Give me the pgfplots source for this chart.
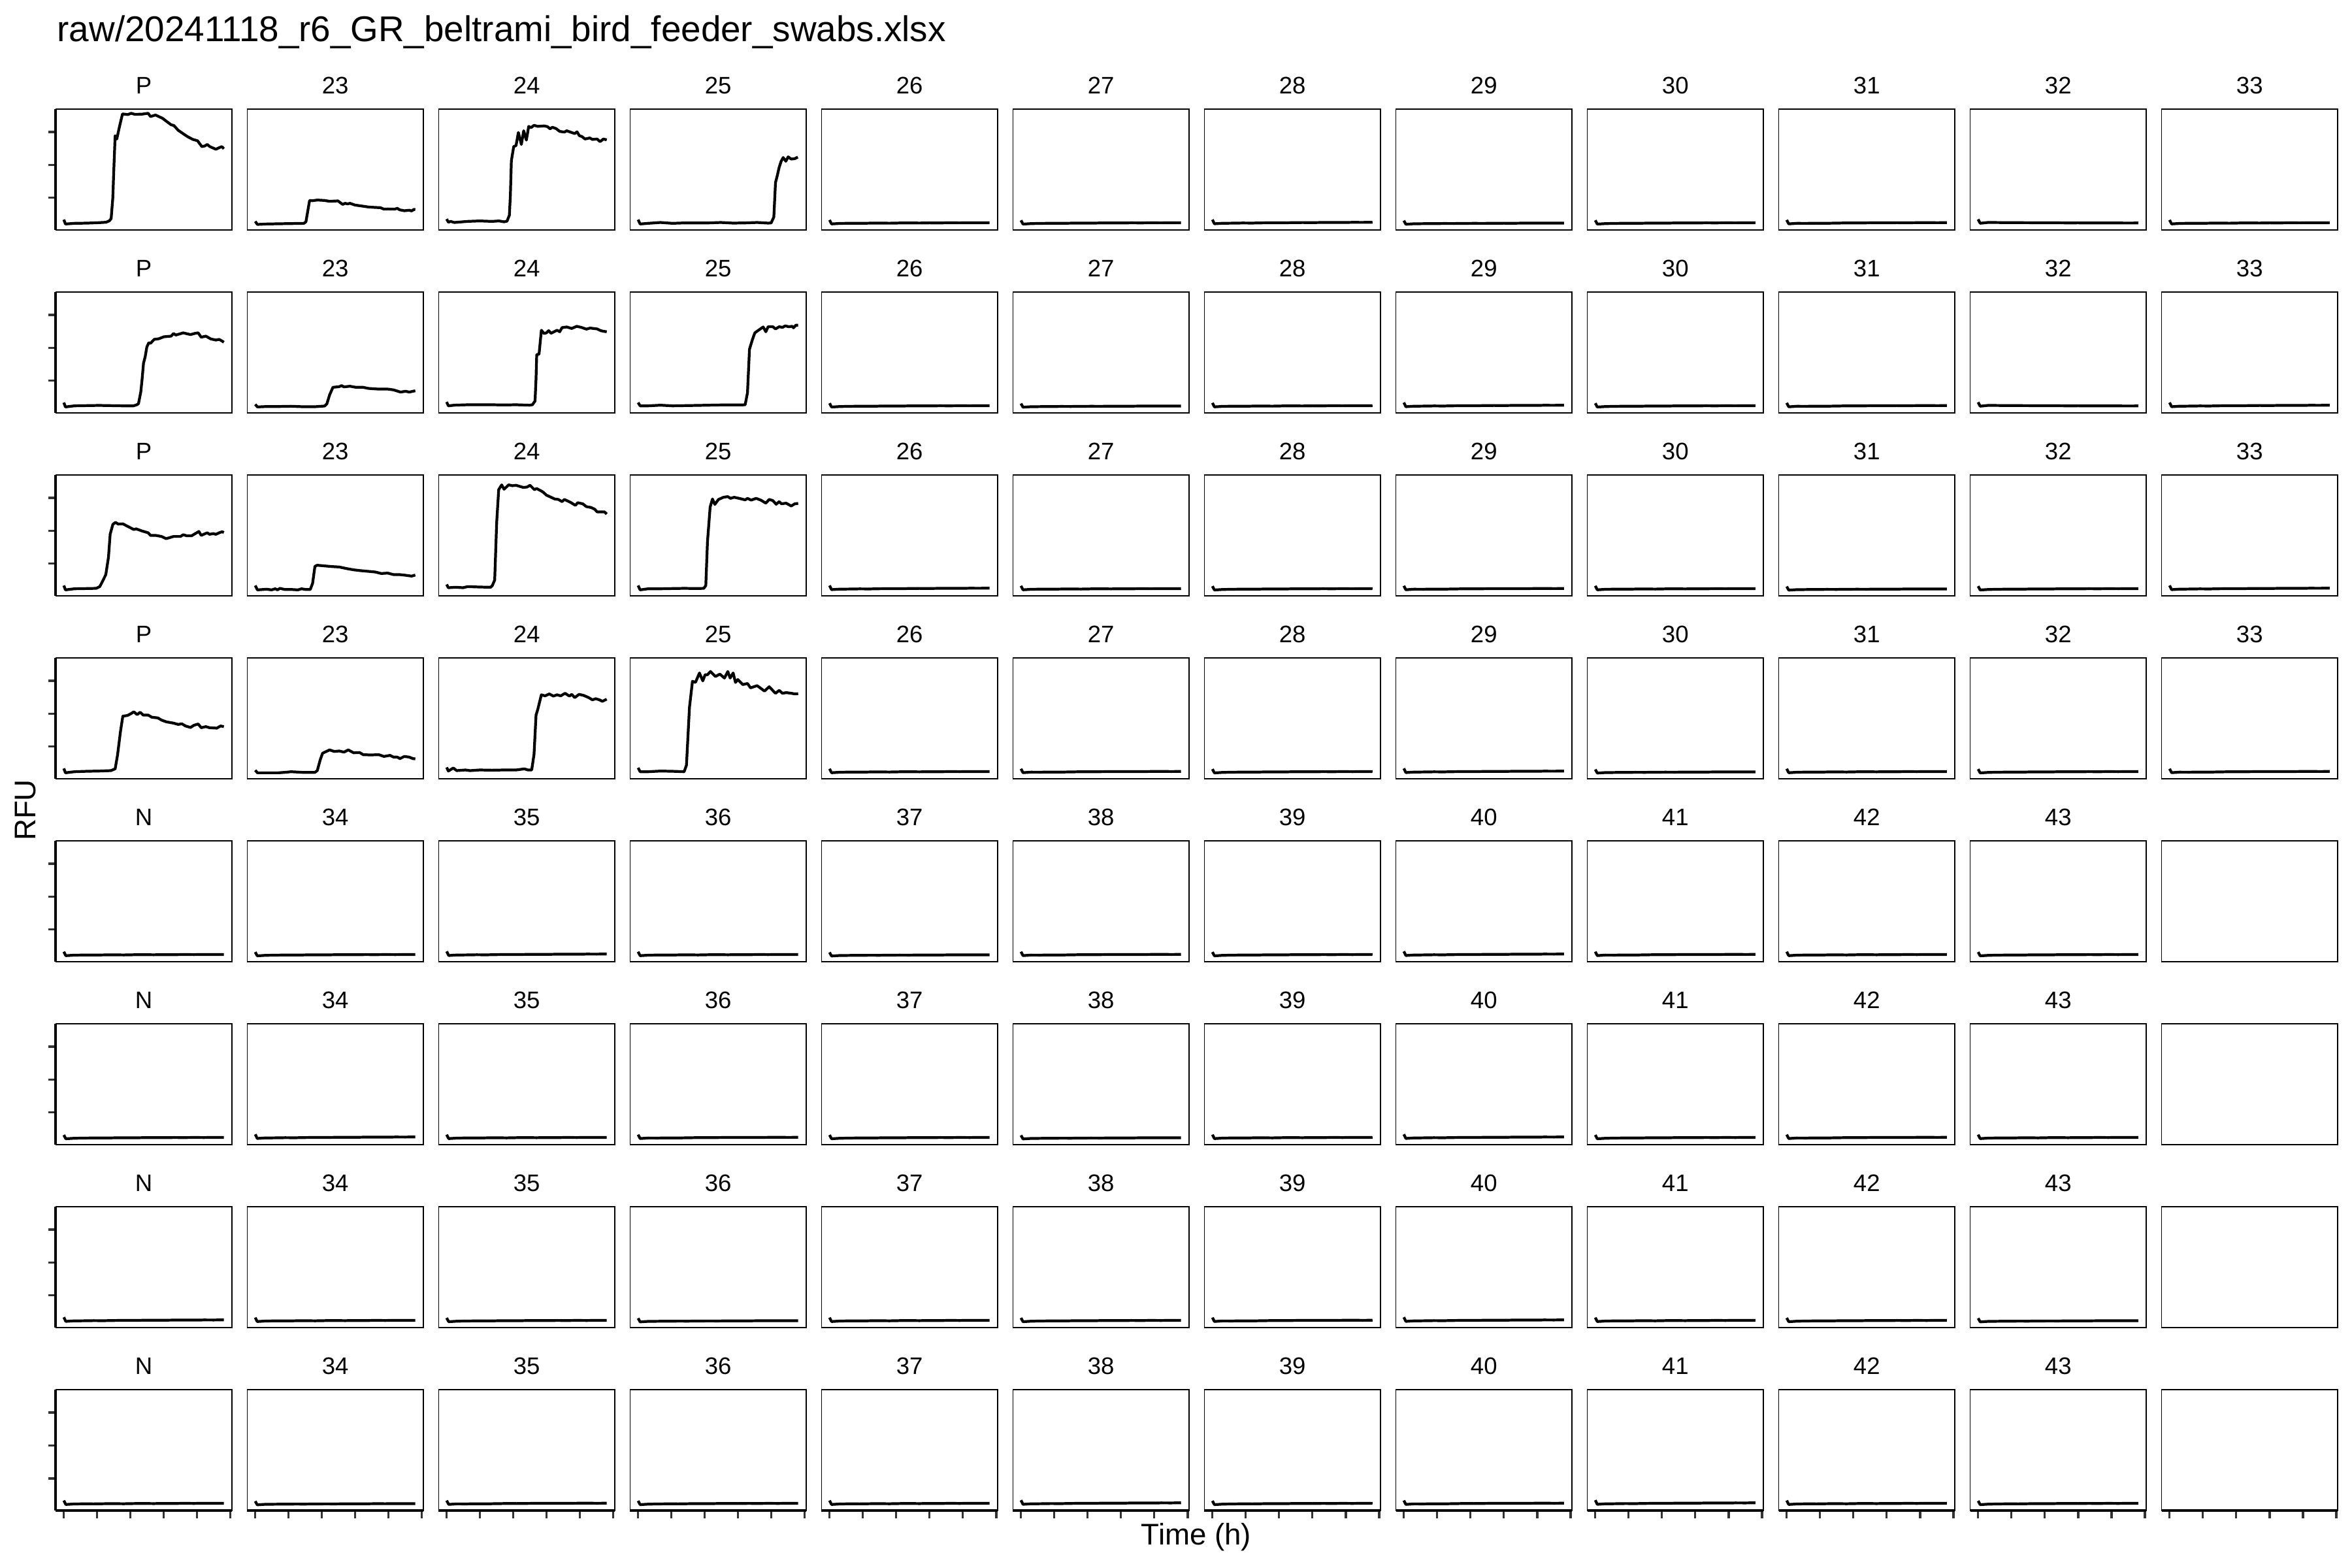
\documentclass[border=0pt]{standalone}
\usepackage{fontspec}
\setmainfont{Liberation Sans}
\usepackage{pgfplots}
\usepackage{pgfplotstable}
\pgfplotsset{compat=1.18}
\usepgfplotslibrary{groupplots}
\usetikzlibrary{calc}

% ---------- signal curves (time h, RFU) ----------
\pgfplotstableread{
x y
0 3400
0.5 2080
3.2 2280
6.9 2340
10.5 2480
12.7 2610
13.7 3070
14.2 3730
14.7 10020
15.0 18610
15.4 28860
15.9 27870
16.6 31180
17.6 35480
19.2 35280
20.2 35670
21.3 35350
23.5 35410
25.3 35670
26.0 34680
27.5 35140
29.6 34160
30.7 33300
32.2 32170
33.0 31970
34.3 30520
36.2 29200
37.2 28530
38.7 27740
40.1 27340
41.4 25560
42.3 25760
43.0 26220
43.8 25560
45.6 24760
46.6 25230
47.4 25560
48.0 24900
}\sAa
\pgfplotstableread{
x y
0 2870
0.65 1950
3.4 2080
7.0 2150
10.7 2210
14.6 2280
15.2 2740
16.3 9220
17.2 9150
18.6 9350
20.8 9220
22.3 8960
24.8 9090
26.2 8030
27.0 8360
27.7 8160
28.4 8360
29.9 7830
31.7 7570
33.9 7240
36.0 7100
37.5 7040
38.6 6580
39.7 6640
41.8 6580
42.6 6840
43.3 6380
44.7 6110
46.2 6250
46.9 6050
47.6 6510
48.0 6450
}\sAb
\pgfplotstableread{
x y
0 3600
0.5 2610
1.2 2870
2.3 2540
6.3 2870
9.9 3010
13.6 2870
15.7 3010
17.2 2740
18.1 2940
18.8 4720
19.1 10670
19.4 21250
20.1 25550
20.8 25880
21.5 29840
22.4 26210
23.1 30370
23.9 27530
24.6 31700
25.3 31300
26.2 32020
27.3 31700
29.2 31830
30.2 31630
31.0 30970
31.7 31430
32.8 31030
33.9 30170
35.3 29970
36.0 30370
37.1 29970
38.4 29510
39.1 30040
39.8 28850
40.5 28650
41.5 27860
42.9 28190
43.7 27730
45.1 27860
46.0 27070
47.0 27860
48.0 27600
}\sAc
\pgfplotstableread{
x y
0 3400
0.6 2080
3.0 2280
6.7 2540
10.3 2280
13.9 2410
17.6 2410
21.2 2410
24.8 2540
28.5 2350
32.1 2410
35.7 2540
39.0 2350
39.9 2410
40.7 4190
41.2 14640
41.7 16620
42.3 19270
42.9 21120
43.5 22240
44.3 21120
45.0 22440
45.9 21780
47.0 21910
47.9 22380
}\sAd
\pgfplotstableread{
x y
0 3400
0.5 2080
3.2 2410
10.5 2540
17.7 2410
20.9 2410
21.9 2740
22.4 3070
23.1 6710
23.5 10670
23.9 15300
24.4 17280
24.9 20260
25.5 21580
26.0 21380
27.1 22570
28.5 22770
30.0 23360
32.2 23560
32.9 24360
33.6 23890
35.8 24550
38.0 24030
39.4 24420
40.3 24550
41.2 23230
42.6 23560
44.1 22700
45.6 22370
46.6 22570
47.5 22040
48.0 21710
}\sBa
\pgfplotstableread{
x y
0 2870
0.65 2080
3.4 2210
7.0 2210
10.7 2280
14.3 2150
17.9 2150
20.8 2350
21.5 3070
22.3 5720
23.3 8030
25.2 8230
25.9 8560
26.6 8160
28.4 8360
30.2 8030
32.4 8030
33.9 7700
36.8 7500
39.7 7500
41.5 7240
43.6 6580
45.1 6840
46.2 6580
47.3 6840
48.0 6970
}\sBb
\pgfplotstableread{
x y
0 3600
0.5 2410
2.3 2610
6.3 2740
9.9 2740
13.6 2740
17.2 2680
20.8 2740
24.8 2610
25.7 2740
26.5 3870
26.8 10670
27.0 17950
27.7 18080
28.4 25350
29.2 24360
29.9 24560
30.6 25220
31.3 24420
33.1 25350
33.9 24890
34.6 26140
36.0 26340
37.5 25880
39.0 26540
40.4 26210
41.9 25680
43.0 26010
45.1 25750
46.2 25220
47.1 25020
48.0 24890
}\sBc
\pgfplotstableread{
x y
0 3400
0.6 2410
3.0 2410
6.7 2610
10.3 2410
17.6 2540
24.8 2680
30.6 2680
32.1 2740
32.8 6380
33.4 19600
34.3 22570
35.0 24550
36.1 25350
37.5 26340
38.3 24890
39.0 26410
40.4 26410
41.2 25750
42.3 26410
43.3 26210
44.1 26670
45.2 26410
46.2 26540
46.6 26080
47.3 26870
48.0 26870
}\sBd
\pgfplotstableread{
x y
0 3400
0.5 2080
3.2 2410
6.9 2480
9.7 2540
10.8 3070
11.8 5060
12.6 6710
13.4 11990
13.9 18940
14.7 21910
15.5 22570
16.3 22040
17.7 22110
19.1 21380
21.0 20390
21.7 20590
23.5 19930
25.3 19400
26.0 18610
27.5 18610
29.3 18280
30.7 17620
32.9 18280
35.0 18280
35.8 18800
36.9 18480
38.3 18480
39.4 19140
40.5 19800
41.2 18610
43.0 19400
43.7 18940
44.8 19140
45.6 18940
46.6 19400
47.5 19730
48.0 19470
}\sCa
\pgfplotstableread{
x y
0 3400
0.65 2080
3.4 2280
4.9 2080
6.0 2410
6.7 2080
7.4 2540
8.8 2210
10.7 2210
12.8 2080
13.9 2410
15.0 2210
16.5 2210
17.2 4060
17.9 9220
18.6 9550
20.8 9350
23.0 9150
25.2 9020
27.3 8560
29.5 8160
31.7 7900
33.9 7700
36.0 7500
37.8 7040
39.7 7170
41.5 6710
43.3 6710
45.1 6510
46.9 6250
48.0 6580
}\sCb
\pgfplotstableread{
x y
0 3730
0.5 2740
2.7 2870
4.9 2740
6.3 3070
9.9 2940
13.2 2870
13.7 3400
14.4 5060
15.0 22570
15.6 32490
16.5 33940
17.2 32620
18.6 33940
19.7 33680
20.8 33810
23.0 33150
24.1 33280
25.0 33810
26.3 32490
27.0 32820
28.8 31830
29.9 30830
32.4 29650
33.5 29510
34.6 28850
35.3 29510
37.1 28650
38.6 27730
39.3 28520
40.8 28190
41.9 27330
43.3 27070
44.4 26540
45.1 25750
47.3 25750
48.0 25090
}\sCc
\pgfplotstableread{
x y
0 3400
0.6 2080
3.0 2410
6.7 2410
10.3 2480
13.9 2540
17.6 2480
19.7 2540
20.3 3400
20.8 16620
21.6 27200
22.3 29650
23.0 28000
24.1 29510
25.6 30170
26.9 30370
27.7 29840
28.8 30170
30.3 29840
32.1 29380
32.8 29840
33.9 29310
35.4 29840
36.8 29310
38.3 28390
39.3 29510
40.4 29180
41.4 28060
42.3 28850
43.0 28190
44.4 28390
45.9 27530
47.0 28190
48.0 28320
}\sCd
\pgfplotstableread{
x y
0 3400
0.5 2080
3.2 2410
6.9 2540
10.5 2610
14.1 2740
15.4 3270
16.1 7370
17.0 14640
17.7 19270
19.1 19470
20.2 20060
21.0 20590
22.0 19730
22.9 20460
23.8 19600
25.3 19600
26.4 18940
28.2 18740
29.3 18080
30.7 17550
32.9 17150
34.3 16760
35.4 16950
36.5 16290
38.0 15830
39.0 16490
40.3 16890
41.2 15760
42.6 16090
43.7 15760
45.9 15630
47.0 16290
48.0 16090
}\sDa
\pgfplotstableread{
x y
0 2870
0.65 2080
3.4 2080
7.0 2080
9.6 2280
10.7 2410
14.3 2210
17.9 2210
18.6 2740
19.5 6050
20.2 8030
22.3 9020
23.7 8560
25.2 8690
26.6 8360
27.9 9020
29.5 8160
31.3 8230
32.4 7570
34.6 7500
37.1 7570
38.6 7040
40.4 7370
41.5 6840
42.6 6840
43.4 6380
44.7 7040
46.2 6840
47.3 6380
48.0 6310
}\sDb
\pgfplotstableread{
x y
0 3730
0.5 2610
2.0 3540
3.0 2740
5.6 2940
7.0 2740
9.9 2940
13.6 2870
17.2 2940
20.8 2940
23.3 3270
24.4 2940
25.5 2940
26.2 7700
26.8 19600
27.3 21250
28.4 25750
29.5 25420
30.8 26010
32.0 25350
33.1 25750
34.2 25420
35.5 26210
36.8 25350
37.5 25880
38.4 24890
39.7 25880
41.1 25550
42.6 24890
43.7 24220
44.7 24560
45.8 24220
46.7 23760
48.0 24420
}\sDc
\pgfplotstableread{
x y
0 3600
0.6 2410
3.0 2410
6.7 2610
10.3 2540
13.8 2410
14.5 4400
15.4 21910
16.3 29840
17.2 29510
18.4 32360
19.4 29970
20.1 31830
20.8 31830
21.7 32820
23.2 31300
24.5 32020
25.9 30830
26.9 32820
27.6 30830
28.5 32360
29.2 29510
29.9 30370
31.4 28850
32.8 29180
33.7 27860
35.7 28520
37.9 26870
39.3 28190
41.2 26210
42.3 27070
43.3 26210
44.4 26410
45.9 26210
47.0 26010
48.0 26080
}\sDd

% ---------- flat (negative) curves ----------
\pgfplotstableread{
x y
0 3300
0.6 2100
3 2250
6 2300
9 2280
12 2330
15 2350
18 2320
21 2380
24 2400
27 2370
30 2420
33 2400
36 2450
39 2420
42 2460
45 2440
48 2470
}\fA
\pgfplotstableread{
x y
0 3200
0.6 2050
3 2200
6 2260
9 2300
12 2280
15 2330
18 2360
21 2340
24 2390
27 2410
30 2380
33 2430
36 2410
39 2440
42 2420
45 2450
48 2430
}\fB
\pgfplotstableread{
x y
0 3400
0.6 2150
3 2300
6 2330
9 2380
12 2360
15 2420
18 2450
21 2430
24 2490
27 2520
30 2500
33 2540
36 2560
39 2530
42 2580
45 2570
48 2600
}\fC
\pgfplotstableread{
x y
0 3500
0.6 2300
3 2550
6 2520
9 2500
12 2480
15 2470
18 2450
21 2440
24 2430
27 2410
30 2420
33 2400
36 2390
39 2400
42 2380
45 2370
48 2380
}\fD
\pgfplotstableread{
x y
0 3100
0.6 2000
3 2150
6 2180
9 2200
12 2230
15 2220
18 2260
21 2280
24 2270
27 2300
30 2320
33 2310
36 2340
39 2330
42 2350
45 2340
48 2360
}\fE
\pgfplotstableread{
x y
0 3300
0.6 2120
3 2280
6 2270
9 2320
12 2300
15 2350
18 2400
21 2380
24 2420
27 2450
30 2430
33 2470
36 2450
39 2480
42 2500
45 2470
48 2490
}\fF

\pgfplotsset{
  leftcol/.style={ytick={10000,20000,30000},
    extra description/.append code={\draw[line width=1.1pt,black] (0,0)--(0,1);}},
  bottomrow/.style={xtick={0,10,20,30,40,50},
    extra description/.append code={\draw[line width=1.1pt,black] (0,0)--(1,0);}},
}

\begin{document}
\begin{tikzpicture}
\begin{groupplot}[
  group style={group size=12 by 8, horizontal sep=0.235cm, vertical sep=0.945cm},
  scale only axis, width=2.695cm, height=1.855cm,
  xmin=-2.4, xmax=50.4, ymin=230, ymax=37000,
  xtick=\empty, ytick=\empty,
  scaled ticks=false,
  xticklabel={\relax}, yticklabel={\relax},
  tick pos=left, tick align=outside, major tick length=0.115cm,
  tick style={line width=0.9pt, black!80},
  axis line style={line width=0.5pt, black},
  every axis title shift=0pt,
  title style={font=\fontsize{10.4}{12}\selectfont, at={(0.5,1)}, anchor=base, yshift=0.23cm, inner sep=0pt},
  cycle list={{black, mark=none}},
  every axis plot post/.append style={line width=1.2pt, line join=round, black, mark=none},
]
% ---- row 1 ----
\nextgroupplot[title=P,leftcol]\addplot table {\sAa};
\nextgroupplot[title=23]\addplot table {\sAb};
\nextgroupplot[title=24]\addplot table {\sAc};
\nextgroupplot[title=25]\addplot table {\sAd};
\nextgroupplot[title=26]\addplot table {\fA};
\nextgroupplot[title=27]\addplot table {\fB};
\nextgroupplot[title=28]\addplot table {\fC};
\nextgroupplot[title=29]\addplot table {\fE};
\nextgroupplot[title=30]\addplot table {\fB};
\nextgroupplot[title=31]\addplot table {\fF};
\nextgroupplot[title=32]\addplot table {\fD};
\nextgroupplot[title=33]\addplot table {\fA};
% ---- row 2 ----
\nextgroupplot[title=P,leftcol]\addplot table {\sBa};
\nextgroupplot[title=23]\addplot table {\sBb};
\nextgroupplot[title=24]\addplot table {\sBc};
\nextgroupplot[title=25]\addplot table {\sBd};
\nextgroupplot[title=26]\addplot table {\fB};
\nextgroupplot[title=27]\addplot table {\fE};
\nextgroupplot[title=28]\addplot table {\fA};
\nextgroupplot[title=29]\addplot table {\fC};
\nextgroupplot[title=30]\addplot table {\fB};
\nextgroupplot[title=31]\addplot table {\fF};
\nextgroupplot[title=32]\addplot table {\fD};
\nextgroupplot[title=33]\addplot table {\fC};
% ---- row 3 ----
\nextgroupplot[title=P,leftcol]\addplot table {\sCa};
\nextgroupplot[title=23]\addplot table {\sCb};
\nextgroupplot[title=24]\addplot table {\sCc};
\nextgroupplot[title=25]\addplot table {\sCd};
\nextgroupplot[title=26]\addplot table {\fC};
\nextgroupplot[title=27]\addplot table {\fA};
\nextgroupplot[title=28]\addplot table {\fB};
\nextgroupplot[title=29]\addplot table {\fF};
\nextgroupplot[title=30]\addplot table {\fA};
\nextgroupplot[title=31]\addplot table {\fE};
\nextgroupplot[title=32]\addplot table {\fB};
\nextgroupplot[title=33]\addplot table {\fC};
% ---- row 4 ----
\nextgroupplot[title=P,leftcol]\addplot table {\sDa};
\nextgroupplot[title=23]\addplot table {\sDb};
\nextgroupplot[title=24]\addplot table {\sDc};
\nextgroupplot[title=25]\addplot table {\sDd};
\nextgroupplot[title=26]\addplot table {\fA};
\nextgroupplot[title=27]\addplot table {\fF};
\nextgroupplot[title=28]\addplot table {\fB};
\nextgroupplot[title=29]\addplot table {\fC};
\nextgroupplot[title=30]\addplot table {\fE};
\nextgroupplot[title=31]\addplot table {\fA};
\nextgroupplot[title=32]\addplot table {\fB};
\nextgroupplot[title=33]\addplot table {\fF};
% ---- row 5 ----
\nextgroupplot[title=N,leftcol]\addplot table {\fA};
\nextgroupplot[title=34]\addplot table {\fB};
\nextgroupplot[title=35]\addplot table {\fC};
\nextgroupplot[title=36]\addplot table {\fA};
\nextgroupplot[title=37]\addplot table {\fE};
\nextgroupplot[title=38]\addplot table {\fF};
\nextgroupplot[title=39]\addplot table {\fB};
\nextgroupplot[title=40]\addplot table {\fC};
\nextgroupplot[title=41]\addplot table {\fF};
\nextgroupplot[title=42]\addplot table {\fA};
\nextgroupplot[title=43]\addplot table {\fB};
\nextgroupplot[]
% ---- row 6 ----
\nextgroupplot[title=N,leftcol]\addplot table {\fB};
\nextgroupplot[title=34]\addplot table {\fC};
\nextgroupplot[title=35]\addplot table {\fA};
\nextgroupplot[title=36]\addplot table {\fF};
\nextgroupplot[title=37]\addplot table {\fB};
\nextgroupplot[title=38]\addplot table {\fE};
\nextgroupplot[title=39]\addplot table {\fA};
\nextgroupplot[title=40]\addplot table {\fC};
\nextgroupplot[title=41]\addplot table {\fB};
\nextgroupplot[title=42]\addplot table {\fF};
\nextgroupplot[title=43]\addplot table {\fA};
\nextgroupplot[]
% ---- row 7 ----
\nextgroupplot[title=N,leftcol]\addplot table {\fC};
\nextgroupplot[title=34]\addplot table {\fA};
\nextgroupplot[title=35]\addplot table {\fB};
\nextgroupplot[title=36]\addplot table {\fE};
\nextgroupplot[title=37]\addplot table {\fA};
\nextgroupplot[title=38]\addplot table {\fB};
\nextgroupplot[title=39]\addplot table {\fF};
\nextgroupplot[title=40]\addplot table {\fC};
\nextgroupplot[title=41]\addplot table {\fA};
\nextgroupplot[title=42]\addplot table {\fB};
\nextgroupplot[title=43]\addplot table {\fE};
\nextgroupplot[]
% ---- row 8 ----
\nextgroupplot[title=N,leftcol,bottomrow]\addplot table {\fA};
\nextgroupplot[title=34,bottomrow]\addplot table {\fE};
\nextgroupplot[title=35,bottomrow]\addplot table {\fF};
\nextgroupplot[title=36,bottomrow]\addplot table {\fB};
\nextgroupplot[title=37,bottomrow]\addplot table {\fA};
\nextgroupplot[title=38,bottomrow]\addplot table {\fC};
\nextgroupplot[title=39,bottomrow]\addplot table {\fB};
\nextgroupplot[title=40,bottomrow]\addplot table {\fF};
\nextgroupplot[title=41,bottomrow]\addplot table {\fC};
\nextgroupplot[title=42,bottomrow]\addplot table {\fA};
\nextgroupplot[title=43,bottomrow]\addplot table {\fB};
\nextgroupplot[bottomrow]
\end{groupplot}
\coordinate (O) at ($(group c1r1.north west)+(-0.854cm,1.667cm)$);
\path[use as bounding box] (O) rectangle ($(O)+(36cm,-24cm)$);
\node[anchor=base west, inner sep=0pt, font=\fontsize{15.6}{18}\selectfont] at ($(O)+(0.87cm,-0.64cm)$) {raw/20241118\_r6\_GR\_beltrami\_bird\_feeder\_swabs.xlsx};
\node[rotate=90, inner sep=0pt, font=\fontsize{13}{15}\selectfont] at ($(O)+(0.39cm,-12.40cm)$) {RFU};
\node[inner sep=0pt, font=\fontsize{13}{15}\selectfont] at ($(O)+(18.31cm,-23.53cm)$) {Time (h)};
\end{tikzpicture}
\end{document}
